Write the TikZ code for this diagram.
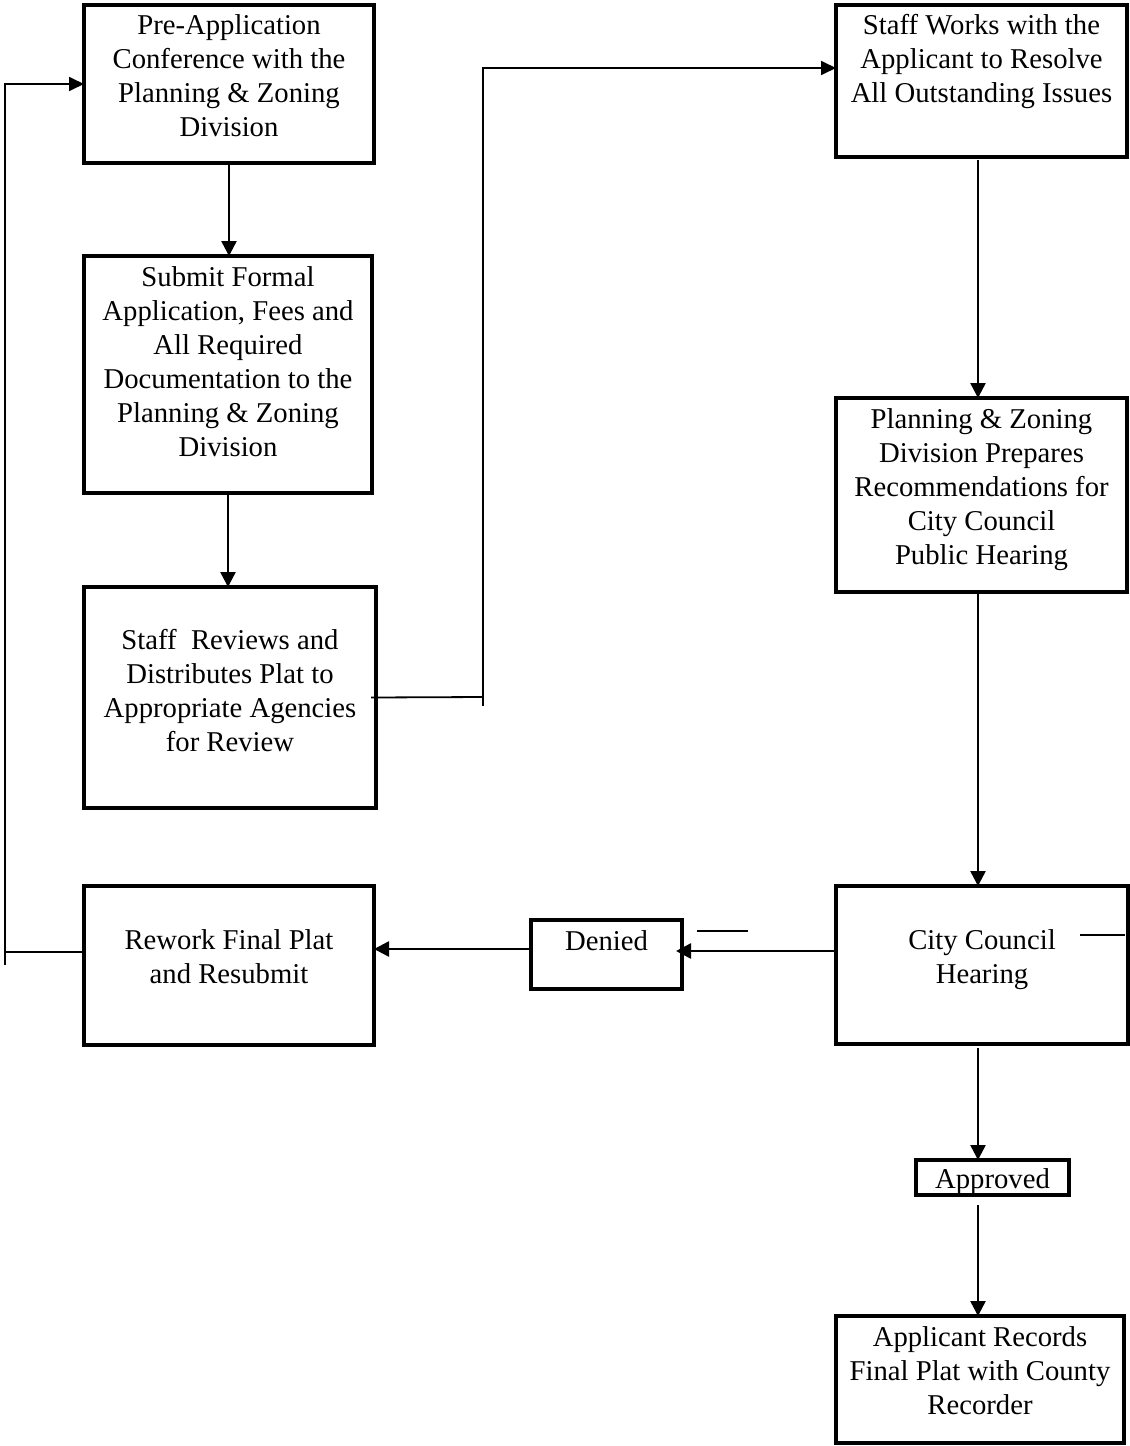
\documentclass[tikz,border=0pt]{standalone}
\usepackage{fontspec}
\setmainfont{Liberation Serif}
\usetikzlibrary{arrows.meta}
\newcommand\fbtext[4]{\parbox[t][#2pt][t]{#1pt}{\centering\fontsize{28.7}{34}\selectfont\rule{0pt}{#3pt}#4}}
\begin{document}
\begin{tikzpicture}[x=1pt,y=1pt,
  fbox/.style={draw, line width=3.2pt, inner sep=0pt, outer sep=0pt, anchor=north west},
  mainarrow/.style={line width=2.5pt, -{Triangle[length=15pt,width=15pt]}},
  mainline/.style={line width=2.3pt},
  thinline/.style={line width=1.8pt},
  thinarrow/.style={line width=1.8pt, -{Triangle[length=15pt,width=14pt]}}]
\useasboundingbox (0,0) rectangle (1130,-1446);

% boxes
\node[fbox] (pre) at (84,-5) {\fbtext{290}{158}{29}{Pre-Application\\Conference with the\\Planning \& Zoning\\Division}};
\node[fbox] (sub) at (84,-256) {\fbtext{288}{237}{30}{Submit Formal\\Application, Fees and\\All Required\\Documentation to the\\Planning \& Zoning\\Division}};
\node[fbox] (rev) at (84,-587) {\fbtext{292}{221}{62}{Staff\ \ Reviews and\\Distributes Plat to\\Appropriate Agencies\\for Review}};
\node[fbox] (rew) at (84,-886) {\fbtext{290}{159}{63}{Rework Final Plat\\and Resubmit}};
\node[fbox] (den) at (531,-920) {\fbtext{151}{69}{30}{Denied}};
\node[fbox] (works) at (836,-5) {\fbtext{291}{152}{29}{Staff Works with the\\Applicant to Resolve\\All Outstanding Issues}};
\node[fbox] (plan) at (836,-398) {\fbtext{291}{194}{30}{Planning \& Zoning\\Division Prepares\\Recommendations for\\City Council\\Public Hearing}};
\node[fbox] (cc) at (836,-886) {\fbtext{292}{158}{63}{City Council\\Hearing}};
\node[fbox] (app) at (916,-1160) {\fbtext{153}{35}{28}{Approved}};
\node[fbox] (rec) at (836,-1316) {\fbtext{288}{127}{30}{Applicant Records\\Final Plat with County\\Recorder}};

% helper coordinates
\coordinate (j1) at (483,-697);
\coordinate (j1b) at (483,-706);
\coordinate (j2) at (483,-68);
\coordinate (l1) at (5,-952);
\coordinate (l1b) at (5,-965);
\coordinate (d1) at (0,-951);
\coordinate (d2) at (0,-949);
\coordinate (s1) at (697,-931);
\coordinate (s2) at (748,-931);
\coordinate (s3) at (1080,-935);
\coordinate (s4) at (1125,-935);
\coordinate (v) at (978,0);
\coordinate (w1) at (978,-160);
\coordinate (a1) at (978,-1048);
\coordinate (a2) at (978,-1205);

% left column
\draw[mainarrow] (pre.south) -- (pre.south |- sub.north);
\draw[mainarrow] (sub.south) -- (sub.south |- rev.north);

% reviews -> staff works
\draw[thinline] ([xshift=-5pt]rev.east) -- (j1);
\draw[thinarrow] (j1b) -- (j2) -- (j2 -| works.west);

% rework loop back to pre-application
\draw[thinline] (rew.west |- l1) -- (l1);
\draw[thinarrow] (l1b) |- (pre.west);

% right column
\draw[mainarrow] (w1) -- (v |- plan.north);
\draw[mainarrow] (v |- plan.south) -- (v |- cc.north);
\draw[mainarrow] (a1) -- (v |- app.north);
\draw[mainarrow] (a2) -- (v |- rec.north);

% denied path
\draw[mainarrow] (cc.west |- d1) -- ([xshift=-6pt]den.east |- d1);
\draw[mainarrow] (den.west |- d2) -- (rew.east |- d2);

% stray strokes
\draw[mainline] (s1) -- (s2);
\draw[mainline] (s3) -- (s4);
\end{tikzpicture}
\end{document}
